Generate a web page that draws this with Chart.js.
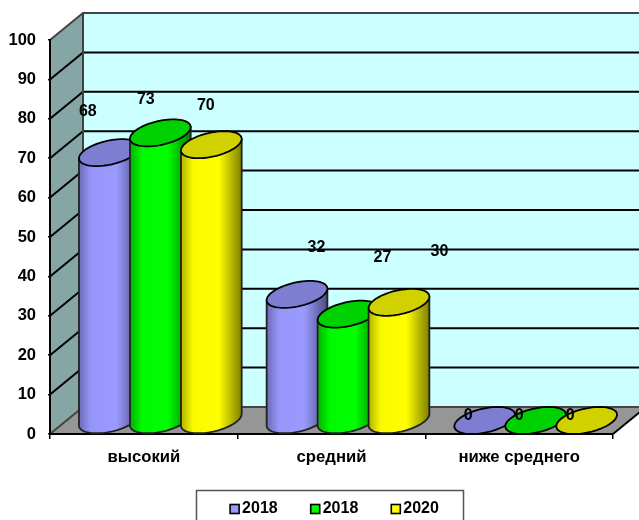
<!DOCTYPE html>
<html><head><meta charset="utf-8">
<style>html,body{margin:0;padding:0;background:#fff;overflow:hidden}canvas{display:block}</style>
<script src="https://cdn.jsdelivr.net/npm/chart.js@4"></script>
</head><body><canvas id="c" width="639" height="520"></canvas>
<script>
const categories = ['высокий', 'средний', 'ниже среднего'];
const seriesNames = ['2018', '2018', '2020'];
const seriesA = [68, 32, 0];
const seriesB = [73, 27, 0];
const seriesC = [70, 30, 0];
const seriesColors = ['#9999ff', '#00ff00', '#ffff00'];
const yTicks = {min: 0, max: 100, step: 10};
const labelShift = [
  [[-5, -55], [36, -61], [0, -19]],
  [[2, -47], [51, -71], [0, -19]],
  [[11, -53], [57, -65], [0, -19]]
];
const DX = 33, DY = 27, SKEW = 13;
const FONT = '"Liberation Sans", Arial, sans-serif';

function point(cx, cy, w, t) {
  const a = Math.sqrt(w * w / 4 + DX * DX / 4 - SKEW * SKEW);
  return [cx + a * Math.cos(t) + SKEW * Math.sin(t), cy - DY / 2 * Math.sin(t)];
}
function ellipsePath(ctx, cx, cy, w) {
  ctx.beginPath();
  for (let i = 0; i <= 72; i++) {
    const p = point(cx, cy, w, i / 72 * Math.PI * 2);
    i ? ctx.lineTo(p[0], p[1]) : ctx.moveTo(p[0], p[1]);
  }
  ctx.closePath();
}
function cylinder(ctx, bar, color) {
  const w = bar.width, cx = bar.x + DX / 2;
  const topY = bar.y - DY / 2, botY = bar.base - DY / 2;
  const a = Math.sqrt(w * w / 4 + DX * DX / 4 - SKEW * SKEW);
  const t0 = Math.atan2(SKEW, a);
  ctx.lineWidth = 1.8;
  ctx.lineJoin = 'round';
  if (botY - topY > 0.5) {
    const l = point(cx, topY, w, t0 + Math.PI), r = point(cx, topY, w, t0);
    ctx.beginPath();
    ctx.moveTo(l[0], l[1]);
    for (let i = 0; i <= 48; i++) {
      const p = point(cx, botY, w, t0 + Math.PI + i / 48 * Math.PI);
      ctx.lineTo(p[0], p[1]);
    }
    ctx.lineTo(r[0], r[1]);
    ctx.closePath();
    ctx.fillStyle = color;
    ctx.fill();
    const g = ctx.createLinearGradient(l[0], 0, r[0], 0);
    g.addColorStop(0, 'rgba(0,0,0,.3)');
    g.addColorStop(.2, 'rgba(0,0,0,.02)');
    g.addColorStop(.62, 'rgba(0,0,0,0)');
    g.addColorStop(1, 'rgba(0,0,0,.5)');
    ctx.fillStyle = g;
    ctx.fill();
    ctx.strokeStyle = '#222';
    ctx.stroke();
  }
  ctx.strokeStyle = '#000';
  ellipsePath(ctx, cx, topY, w);
  ctx.fillStyle = color;
  ctx.fill();
  ctx.fillStyle = 'rgba(0,0,0,.18)';
  ctx.fill();
  ctx.stroke();
}

const walls = {
  id: 'walls',
  beforeDraw(chart) {
    const {ctx, scales} = chart, y = scales.y, x = scales.x;
    const L = x.left, R = x.right, B = y.getPixelForValue(yTicks.min), T = y.getPixelForValue(yTicks.max);
    ctx.save();
    ctx.fillStyle = '#ccffff';
    ctx.fillRect(L + DX, T - DY, R - L, B - T);
    ctx.beginPath();
    ctx.moveTo(L, T); ctx.lineTo(L + DX, T - DY); ctx.lineTo(L + DX, B - DY); ctx.lineTo(L, B); ctx.closePath();
    ctx.fillStyle = '#86a6a6';
    ctx.fill();
    ctx.beginPath();
    ctx.moveTo(L, B); ctx.lineTo(L + DX, B - DY); ctx.lineTo(R + DX, B - DY); ctx.lineTo(R, B); ctx.closePath();
    ctx.fillStyle = '#969696';
    ctx.fill();
    ctx.lineWidth = 2;
    y.ticks.forEach(t => {
      const py = y.getPixelForValue(t.value);
      ctx.strokeStyle = t.value === yTicks.min || t.value === yTicks.max ? '#444' : '#000';
      ctx.beginPath();
      ctx.moveTo(L, py); ctx.lineTo(L + DX, py - DY); ctx.lineTo(R + DX, py - DY);
      ctx.stroke();
    });
    ctx.strokeStyle = '#404040';
    ctx.beginPath();
    ctx.moveTo(L + DX, T - DY); ctx.lineTo(L + DX, B - DY);
    ctx.stroke();
    ctx.strokeStyle = '#000';
    ctx.beginPath();
    ctx.moveTo(R, B); ctx.lineTo(R + DX, B - DY);
    ctx.stroke();
    ctx.restore();
  }
};

const cylinders = {
  id: 'cylinders',
  beforeDatasetDraw() { return false; },
  afterDatasetsDraw(chart) {
    const {ctx} = chart;
    ctx.save();
    chart.data.datasets.forEach((ds, i) => {
      chart.getDatasetMeta(i).data.forEach(bar => cylinder(ctx, bar, ds.backgroundColor));
    });
    ctx.font = 'bold 16px ' + FONT;
    ctx.fillStyle = '#000';
    ctx.textAlign = 'center';
    ctx.textBaseline = 'middle';
    chart.data.datasets.forEach((ds, i) => {
      chart.getDatasetMeta(i).data.forEach((bar, j) => {
        const s = labelShift[i][j];
        ctx.fillText(String(ds.data[j]), bar.x + s[0], bar.y + s[1] + 0.5);
      });
    });
    ctx.restore();
  }
};

const legendFrame = {
  id: 'legendFrame',
  afterLayout(chart) {
    chart.legend.left += 3;
    chart.legend.right += 3;
  },
  beforeDraw(chart) {
    const {ctx} = chart;
    ctx.save();
    ctx.strokeStyle = '#555';
    ctx.lineWidth = 1.5;
    ctx.strokeRect(196.5, 490.5, 267, 40);
    ctx.restore();
  },
  afterDraw(chart) {
    const {ctx, legend} = chart;
    ctx.save();
    ctx.strokeStyle = '#000';
    ctx.lineWidth = 1.6;
    legend.legendHitBoxes.forEach((b, i) => {
      ctx.fillStyle = seriesColors[i];
      const top = b.top + (b.height - 9) / 2;
      ctx.fillRect(b.left, top, 9, 9);
      ctx.strokeRect(b.left, top, 9, 9);
    });
    ctx.restore();
  }
};

new Chart(document.getElementById('c'), {
  type: 'bar',
  data: {
    labels: categories,
    datasets: [seriesA, seriesB, seriesC].map((d, i) => ({
      label: seriesNames[i], data: d, backgroundColor: seriesColors[i],
      barPercentage: 1, categoryPercentage: 0.815
    }))
  },
  plugins: [walls, cylinders, legendFrame],
  options: {
    responsive: false,
    animation: false,
    devicePixelRatio: 1,
    layout: {padding: {top: 40, right: 26, left: 2, bottom: -7}},
    plugins: {
      tooltip: {enabled: false},
      legend: {
        position: 'bottom',
        fullSize: false,
        labels: {
          boxWidth: 4, boxHeight: 9, padding: 33, color: '#000',
          font: {family: FONT, size: 16, weight: 'bold'},
          generateLabels(chart) {
            return chart.data.datasets.map((d, i) => ({
              text: d.label, fillStyle: 'rgba(0,0,0,0)', strokeStyle: 'rgba(0,0,0,0)', lineWidth: 0, datasetIndex: i
            }));
          }
        }
      }
    },
    scales: {
      x: {
        afterFit(s) { s.height = 34; },
        offset: true,
        grid: {display: true, drawOnChartArea: false, offset: true, color: '#000', lineWidth: 1.5, tickLength: 5},
        border: {color: '#000', width: 2},
        ticks: {color: '#000', padding: 8, maxRotation: 0, font: {family: FONT, size: 16.7, weight: 'bold'}}
      },
      y: {
        min: yTicks.min, max: yTicks.max,
        afterFit(s) { s.width = 48; },
        grid: {display: true, drawOnChartArea: false, color: '#000', lineWidth: 1.5, tickLength: 2},
        border: {color: '#000', width: 2},
        ticks: {stepSize: yTicks.step, color: '#000', padding: 12, font: {family: FONT, size: 16.5, weight: 'bold'}}
      }
    }
  }
});
</script></body></html>
